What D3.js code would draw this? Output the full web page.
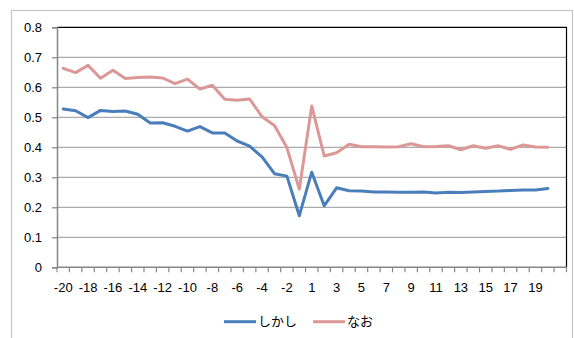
<!DOCTYPE html>
<html>
<head>
<meta charset="utf-8">
<script src="https://cdn.jsdelivr.net/npm/d3@7"></script>
<style>
  html, body { margin: 0; padding: 0; background: #fff; }
  svg { display: block; }
  text { font-family: "Liberation Sans", Arial, "Noto Sans CJK JP", sans-serif; font-size: 13px; fill: #000; }
  .jp { font-family: "Noto Sans CJK JP", sans-serif; }
</style>
</head>
<body>
<svg id="chart" width="574" height="338"></svg>
<script>
// Relative position categories (no 0), plus one trailing empty slot
const categories = [
  "-20","-19","-18","-17","-16","-15","-14","-13","-12","-11",
  "-10","-9","-8","-7","-6","-5","-4","-3","-2","-1",
  "1","2","3","4","5","6","7","8","9","10",
  "11","12","13","14","15","16","17","18","19","20",
  ""
];

const seriesNames = ["しかし", "なお"];

const shikashi = [
  0.528, 0.522, 0.499, 0.523, 0.519, 0.521, 0.510, 0.481, 0.482, 0.470,
  0.454, 0.469, 0.448, 0.448, 0.421, 0.404, 0.368, 0.312, 0.304, 0.172,
  0.317, 0.205, 0.265, 0.255, 0.254, 0.251, 0.251, 0.250, 0.250, 0.251,
  0.248, 0.250, 0.249, 0.251, 0.253, 0.254, 0.256, 0.258, 0.258, 0.263
];

const nao = [
  0.663, 0.649, 0.673, 0.630, 0.657, 0.629, 0.633, 0.634, 0.631, 0.612,
  0.627, 0.594, 0.607, 0.560, 0.557, 0.561, 0.502, 0.473, 0.399, 0.260,
  0.538, 0.371, 0.382, 0.410, 0.402, 0.402, 0.401, 0.402, 0.412, 0.402,
  0.403, 0.405, 0.392, 0.405, 0.397, 0.405, 0.393, 0.408, 0.401, 0.400
];

const yTicks = [0, 0.1, 0.2, 0.3, 0.4, 0.5, 0.6, 0.7, 0.8];
const xLabelCats = categories.filter((c, i) => i % 2 === 0 && c !== "");

const colors = ["#4a7ebb", "#dc9896"];

const svg = d3.select("#chart");
const plot = { left: 57, right: 566.5, top: 27.3, bottom: 267.3 };

// outer chart frame
svg.append("rect")
  .attr("x", 11.5).attr("y", 10.5)
  .attr("width", 561).attr("height", 340)
  .attr("fill", "none").attr("stroke", "#c4c4c4").attr("stroke-width", 1.2);

const x = d3.scaleBand().domain(categories).range([plot.left, plot.right]).padding(0);
const y = d3.scaleLinear().domain([0, 0.8]).range([plot.bottom, plot.top]);
const cx = c => x(c) + x.bandwidth() / 2;

// horizontal gridlines
svg.append("g").selectAll("line")
  .data(yTicks.filter(t => t > 0 && t < 0.8))
  .join("line")
  .attr("x1", plot.left).attr("x2", plot.right)
  .attr("y1", d => y(d)).attr("y2", d => y(d))
  .attr("stroke", "#ababab").attr("stroke-width", 1.2);

// plot frame: top and right in black
svg.append("path")
  .attr("d", `M${plot.left},${y(0.8)}H${plot.right}V${plot.bottom}`)
  .attr("fill", "none").attr("stroke", "#000").attr("stroke-width", 1.2);

// y axis
const yAxis = svg.append("g")
  .attr("transform", `translate(${plot.left},0)`)
  .call(d3.axisLeft(y).tickValues(yTicks).tickSize(5).tickPadding(10)
    .tickFormat(d => d === 0 ? "0" : d3.format(".1f")(d)));
yAxis.select(".domain").attr("stroke", "#868686").attr("stroke-width", 1.5);
yAxis.selectAll(".tick line").attr("stroke", "#868686").attr("stroke-width", 1.2);
yAxis.selectAll("text").attr("font-size", 13.5).attr("font-family", "Liberation Sans, Arial, sans-serif").attr("fill", "#000");

// x axis: labels on every other category
const xAxis = svg.append("g")
  .attr("transform", `translate(0,${plot.bottom})`)
  .call(d3.axisBottom(x).tickValues(xLabelCats).tickSize(0).tickPadding(15));
xAxis.select(".domain").remove();
xAxis.selectAll("text").attr("font-size", 13.5).attr("font-family", "Liberation Sans, Arial, sans-serif").attr("fill", "#000");

// x tick marks between categories
const bounds = d3.range(categories.length + 1).map(i => plot.left + i * x.bandwidth());
svg.append("g").selectAll("line").data(bounds).join("line")
  .attr("x1", d => d).attr("x2", d => d)
  .attr("y1", plot.bottom).attr("y2", plot.bottom + 5)
  .attr("stroke", "#868686").attr("stroke-width", 1.2);
svg.append("line")
  .attr("x1", plot.left).attr("x2", plot.right)
  .attr("y1", plot.bottom).attr("y2", plot.bottom)
  .attr("stroke", "#868686").attr("stroke-width", 1.5);

// series lines
const line = d3.line()
  .x((d, i) => cx(categories[i]))
  .y(d => y(d));

[shikashi, nao].forEach((vals, k) => {
  svg.append("path")
    .datum(vals)
    .attr("d", line)
    .attr("fill", "none")
    .attr("stroke", colors[k])
    .attr("stroke-width", 3)
    .attr("stroke-linejoin", "round")
    .attr("stroke-linecap", "round");
});

// legend
const legendItems = [
  { x1: 224, x2: 256, tx: 258 },
  { x1: 313, x2: 345, tx: 347 }
];
const ly = 321.7;
legendItems.forEach((it, k) => {
  svg.append("line")
    .attr("x1", it.x1).attr("x2", it.x2)
    .attr("y1", ly).attr("y2", ly)
    .attr("stroke", colors[k]).attr("stroke-width", 3);
  svg.append("text")
    .attr("class", "jp")
    .attr("x", it.tx).attr("y", ly)
    .attr("dy", "0.35em")
    .attr("font-size", 13.5)
    .text(seriesNames[k]);
});
</script>
</body>
</html>
